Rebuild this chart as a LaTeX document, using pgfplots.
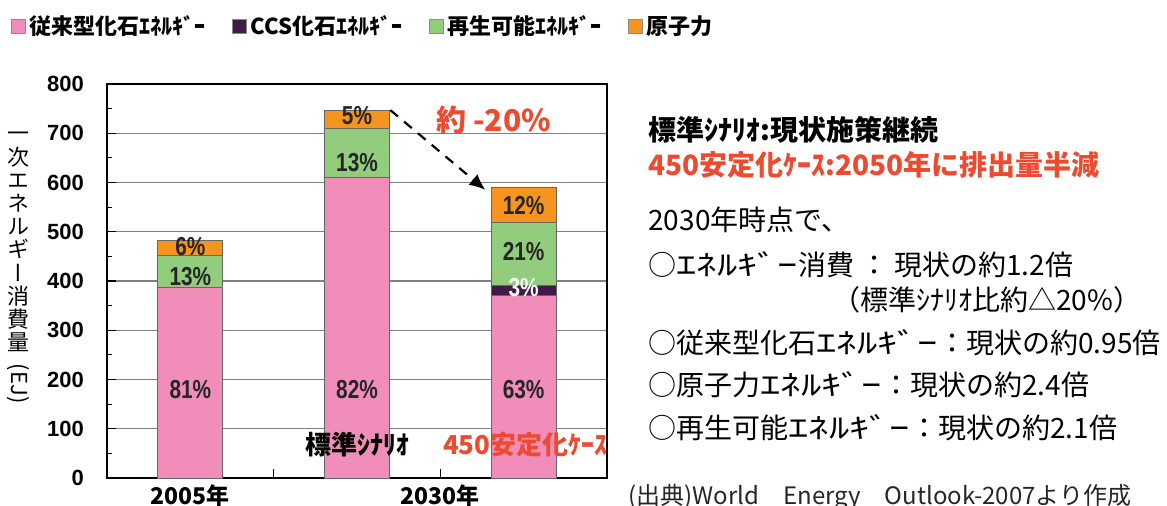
\documentclass[border=0pt]{standalone}
\usepackage{fontspec}
\usepackage{pgfplots}
\pgfplotsset{compat=1.18}
\usetikzlibrary{arrows.meta}
\setmainfont{Noto Sans CJK JP}
\newfontfamily\jpv[RawFeature=+vert]{Noto Sans CJK JP}
\newfontfamily\arial{Liberation Sans}
\definecolor{cpink}{RGB}{240,141,186}
\definecolor{cpurple}{RGB}{64,26,72}
\definecolor{cgreen}{RGB}{146,205,126}
\definecolor{corange}{RGB}{247,148,30}
\definecolor{cred}{RGB}{238,74,47}
\newcommand{\pc}[1]{\scalebox{0.8}[1]{#1}}
\newcommand{\ene}{\scalebox{1.45}[1]{ｴﾈﾙｷﾞｰ}}
\begin{document}
\begin{tikzpicture}
\begin{axis}[
  at={(53.5pt,14pt)}, anchor=south west, scale only axis,
  width=250pt, height=197pt,
  clip=false,
  ybar stacked, bar width=0.39,
  xmin=-0.5, xmax=2.5, ymin=0, ymax=800,
  ytick={0,100,...,800}, minor ytick={50,150,...,750},
  ytick pos=left, xtick pos=bottom, tick align=inside,
  major tick length=4.5pt, minor tick length=2.5pt,
  xtick={0.5,1.5}, xticklabels={,},
  extra x ticks={0,1.5}, extra x tick labels={2005年,2030年},
  extra x tick style={major tick length=0pt, grid=none,
     xticklabel style={font=\bfseries\fontsize{11.5}{12}\selectfont}},
  /pgf/number format/assume math mode=true,
  yticklabel style={font=\arial\bfseries\fontsize{11}{11}\selectfont, xshift=-8pt},
  ymajorgrids, grid style={line width=0.6pt, color=black!50},
  axis line style={line width=1.2pt},
  tick style={line width=0.6pt, black},
  legend columns=4,
  legend style={at={(-0.205,1.195)}, anchor=north west, draw=none, fill=none,
     font=\bfseries\fontsize{11}{12}\selectfont,
     /tikz/every even column/.append style={column sep=11pt}},
  legend image code/.code={\draw[#1, draw=black!45, line width=0.5pt] (0pt,-3.5pt) rectangle (7pt,3.5pt);},
]
\addplot[fill=cpink, draw=black!60] coordinates {(0,388) (1,610) (2,371)};
\addplot[fill=cpurple, draw=black!60] coordinates {(0,0) (1,0) (2,20)};
\addplot[fill=cgreen, draw=black!60] coordinates {(0,64) (1,100) (2,127)};
\addplot[fill=corange, draw=black!60] coordinates {(0,30) (1,37) (2,73)};
\legend{従来型化石ｴﾈﾙｷﾞｰ, CCS化石ｴﾈﾙｷﾞｰ, 再生可能ｴﾈﾙｷﾞｰ, 原子力}

\coordinate (p1) at (axis cs:0,180);
\coordinate (p2) at (axis cs:0,408);
\coordinate (p3) at (axis cs:0,469);
\coordinate (p4) at (axis cs:1,180);
\coordinate (p5) at (axis cs:1,640);
\coordinate (p6) at (axis cs:1,735);
\coordinate (p7) at (axis cs:2,180);
\coordinate (p8) at (axis cs:2,386);
\coordinate (p9) at (axis cs:2,459);
\coordinate (p10) at (axis cs:2,554);
\coordinate (a1) at (axis cs:1.2,747);
\coordinate (a2) at (axis cs:1.77,585);
\coordinate (t1) at (axis cs:1.82,727);
\coordinate (t2) at (axis cs:1.0,67);
\coordinate (t3) at (axis cs:2.01,67);
\end{axis}

\tikzset{pct/.style={font=\arial\bfseries\fontsize{13}{13}\selectfont, text=black!85, inner sep=0pt}}
\node[pct] at (p1) {\pc{81\%}};
\node[pct] at (p2) {\pc{13\%}};
\node[pct] at (p3) {\pc{6\%}};
\node[pct] at (p4) {\pc{82\%}};
\node[pct] at (p5) {\pc{13\%}};
\node[pct] at (p6) {\pc{5\%}};
\node[pct] at (p7) {\pc{63\%}};
\node[pct, text=white] at (p8) {\pc{3\%}};
\node[pct] at (p9) {\pc{21\%}};
\node[pct] at (p10) {\pc{12\%}};
\draw[line width=1.1pt, dash pattern=on 5pt off 4pt, -{Latex[length=8pt,width=7pt]}] (a1) -- (a2);
\node[text=cred, font=\bfseries\fontsize{15}{15}\selectfont] at (t1) {約 -20\%};
\node[font=\bfseries\fontsize{13}{13}\selectfont] at (t2) {標準ｼﾅﾘｵ};
\node[text=cred, font=\bfseries\fontsize{13}{13}\selectfont] at (t3) {450安定化ｹｰｽ};

\node[font=\jpv\fontsize{11}{11.6}\selectfont, align=center] at (9pt,119pt)
  {一\\次\\エ\\ネ\\ル\\ギ\\ー\\消\\費\\量\\[5pt]\rotatebox[origin=c]{-90}{\normalfont(EJ)}};

\tikzset{rt/.style={anchor=west, inner sep=0pt, font=\fontsize{14}{14}\selectfont}}
\node[rt, font=\bfseries\fontsize{14}{14}\selectfont] at (324pt,188pt) {標準ｼﾅﾘｵ:現状施策継続};
\node[rt, text=cred, font=\bfseries\fontsize{14}{14}\selectfont] at (324pt,170.5pt) {450安定化ｹｰｽ:2050年に排出量半減};
\node[rt] at (324pt,143pt) {2030年時点で、};
\node[rt] at (324pt,120.5pt) {○\ene 消費\hspace{3pt}：\hspace{3pt}現状の約1.2倍};
\node[rt] at (416pt,103pt) {（標準ｼﾅﾘｵ比約△20\%）};
\node[rt] at (324pt,81.5pt) {○従来型化石\ene：現状の約0.95倍};
\node[rt] at (324pt,60.5pt) {○原子力\ene：現状の約2.4倍};
\node[rt] at (324pt,39pt) {○再生可能\ene：現状の約2.1倍};
\node[rt, font=\fontsize{12}{12}\selectfont, text=black!85] at (314pt,4.5pt) {(出典)World　Energy　Outlook-2007より作成};

\pgfresetboundingbox
\path[use as bounding box] (0,0) rectangle (583.5pt,253pt);
\end{tikzpicture}
\end{document}
